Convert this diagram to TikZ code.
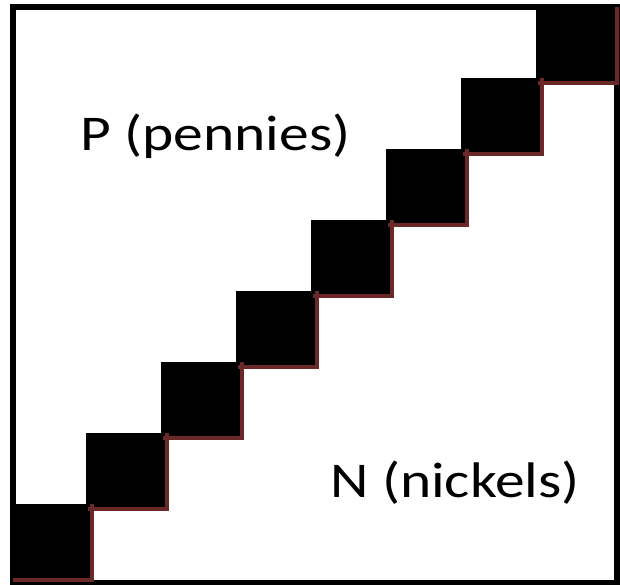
\documentclass[tikz,border=0pt]{standalone}
\usepackage{fontspec}
\usepackage{graphicx}
\setmainfont{Carlito}
\definecolor{stairred}{HTML}{6A2828}
\newcommand{\widetext}[1]{\scalebox{1.19}[1]{#1}}
\begin{document}
\begin{tikzpicture}[x=1pt,y=-1pt,
  frame/.style={draw=black,line width=6pt},
  cell/.style={fill=black},
  stair/.style={draw=stairred,line width=4pt},
  label/.style={font=\fontsize{50}{60}\selectfont,anchor=base west,inner sep=0pt}]
\useasboundingbox (0,0) rectangle (620,584);
% outer frame
\draw[frame] (13,6.5) rectangle (617,582.5);
% diagonal of black cells
\foreach \i in {0,...,7}{
  \pgfmathsetmacro{\xl}{11+75*\i}
  \pgfmathsetmacro{\yb}{580-71*\i}
  \fill[cell] (\xl,\yb) rectangle ++(81,-76);
}
% red edges along the bottom and right side of each cell
\foreach \i in {0,...,7}{
  \pgfmathsetmacro{\xl}{11+75*\i}
  \pgfmathsetmacro{\yb}{580-71*\i}
  \draw[stair,line cap=rect] (\xl+4,\yb) -- (\xl+81,\yb) -- (\xl+81,\yb-74);
}
\node[label] (pennies) at (80,150) {\widetext{P (pennies)}};
\node[label] (nickels) at (330,497) {\widetext{N (nickels)}};
\end{tikzpicture}
\end{document}
